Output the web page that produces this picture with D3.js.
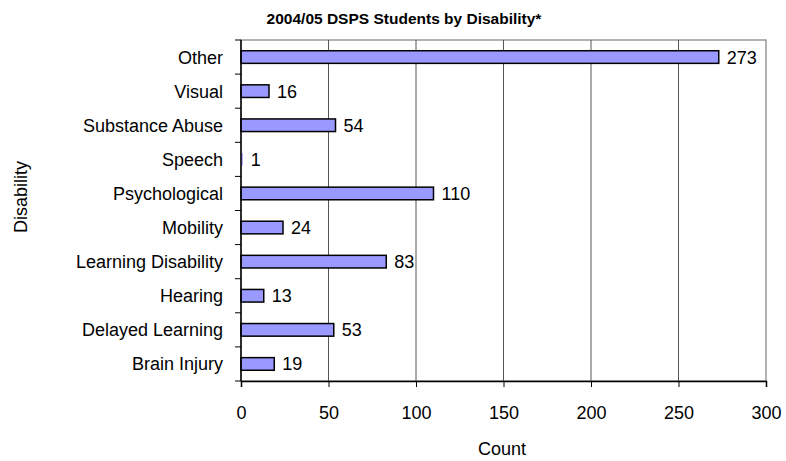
<!DOCTYPE html>
<html>
<head>
<meta charset="utf-8">
<script src="https://cdn.jsdelivr.net/npm/d3@7"></script>
<style>
  body { margin: 0; background: #fff; }
  text { font-family: "Liberation Sans", Arial, sans-serif; fill: #000; }
</style>
</head>
<body>
<div id="chart"></div>
<script>
// data (top to bottom)
var categories = ["Other", "Visual", "Substance Abuse", "Speech", "Psychological",
  "Mobility", "Learning Disability", "Hearing", "Delayed Learning", "Brain Injury"];
var counts = [273, 16, 54, 1, 110, 24, 83, 13, 53, 19];
var xTicks = [0, 50, 100, 150, 200, 250, 300];

var W = 786, H = 461;
var margin = { top: 40, right: 20, bottom: 80, left: 241 },
  width = 766 - margin.left,
  height = 381 - margin.top;

var svg = d3.select("#chart")
  .append("svg")
  .attr("width", W)
  .attr("height", H)
  .append("g")
  .attr("transform", "translate(" + margin.left + "," + margin.top + ")");

var x = d3.scaleLinear().domain([0, 300]).range([0, width]);
var y = d3.scaleBand().domain(categories).range([0, height]).paddingInner(0.63).paddingOuter(0.315);
var yb = d3.scaleBand().domain(categories).range([0, height]);

// plot border (top/right grey)
svg.append("rect")
  .attr("x", 0).attr("y", 0)
  .attr("width", width).attr("height", height)
  .attr("fill", "none").attr("stroke", "#999").attr("stroke-width", 1.5);

// vertical gridlines
svg.selectAll(".grid")
  .data(xTicks.slice(1, -1))
  .enter()
  .append("line")
  .attr("x1", d => x(d)).attr("x2", d => x(d))
  .attr("y1", 0).attr("y2", height)
  .attr("stroke", "#555").attr("stroke-width", 1);

// bars (a bar of 1 is not visible in the original)
svg.selectAll(".bar")
  .data(counts)
  .enter()
  .append("rect")
  .attr("x", 0)
  .attr("y", (d, i) => y(categories[i]))
  .attr("width", d => x(d))
  .attr("height", y.bandwidth())
  .attr("fill", "#9999ff")
  .attr("stroke", d => x(d) < 3 ? "none" : "#000")
  .attr("stroke-width", 1.5);

// value labels
svg.selectAll(".val")
  .data(counts)
  .enter()
  .append("text")
  .attr("x", d => x(d) + 8)
  .attr("y", (d, i) => y(categories[i]) + y.bandwidth() / 2)
  .attr("dy", "0.36em")
  .style("font-size", "18px")
  .text(d => d);

// x axis
var xAxis = svg.append("g")
  .attr("transform", "translate(0," + height + ")")
  .call(d3.axisBottom(x).tickValues(xTicks).tickSize(6).tickPadding(19));
xAxis.select(".domain").attr("stroke", "#000").attr("stroke-width", 1.5);
xAxis.selectAll(".tick line").attr("stroke", "#000");
xAxis.selectAll("text").style("font-size", "18px").style("font-family", "Liberation Sans, Arial, sans-serif").attr("fill", "#000");

// y axis: ticks at band boundaries
var yAxis = svg.append("g");
yAxis.append("line")
  .attr("x1", 0).attr("x2", 0).attr("y1", 0).attr("y2", height)
  .attr("stroke", "#000").attr("stroke-width", 1.5);
yAxis.selectAll(".ytick")
  .data(categories.concat(["__end"]))
  .enter()
  .append("line")
  .attr("x1", -6).attr("x2", 0)
  .attr("y1", (d, i) => i * yb.step()).attr("y2", (d, i) => i * yb.step())
  .attr("stroke", "#000");
yAxis.selectAll(".ylab")
  .data(categories)
  .enter()
  .append("text")
  .attr("x", -18)
  .attr("y", d => yb(d) + yb.bandwidth() / 2)
  .attr("dy", "0.36em")
  .style("text-anchor", "end")
  .style("font-size", "18px")
  .text(d => d);

// title
svg.append("text")
  .attr("x", 404 - margin.left)
  .attr("y", 18 - margin.top)
  .attr("dy", "0.36em")
  .style("text-anchor", "middle")
  .style("font-size", "15.5px")
  .style("font-weight", "bold")
  .text("2004/05 DSPS Students by Disability*");

// axis titles
svg.append("text")
  .attr("transform", "rotate(-90)")
  .attr("x", -(197 - margin.top))
  .attr("y", 21 - margin.left)
  .attr("dy", "0.36em")
  .style("text-anchor", "middle")
  .style("font-size", "18px")
  .text("Disability");

svg.append("text")
  .attr("x", 502 - margin.left)
  .attr("y", 449 - margin.top)
  .attr("dy", "0.36em")
  .style("text-anchor", "middle")
  .style("font-size", "18px")
  .text("Count");
</script>
</body>
</html>
